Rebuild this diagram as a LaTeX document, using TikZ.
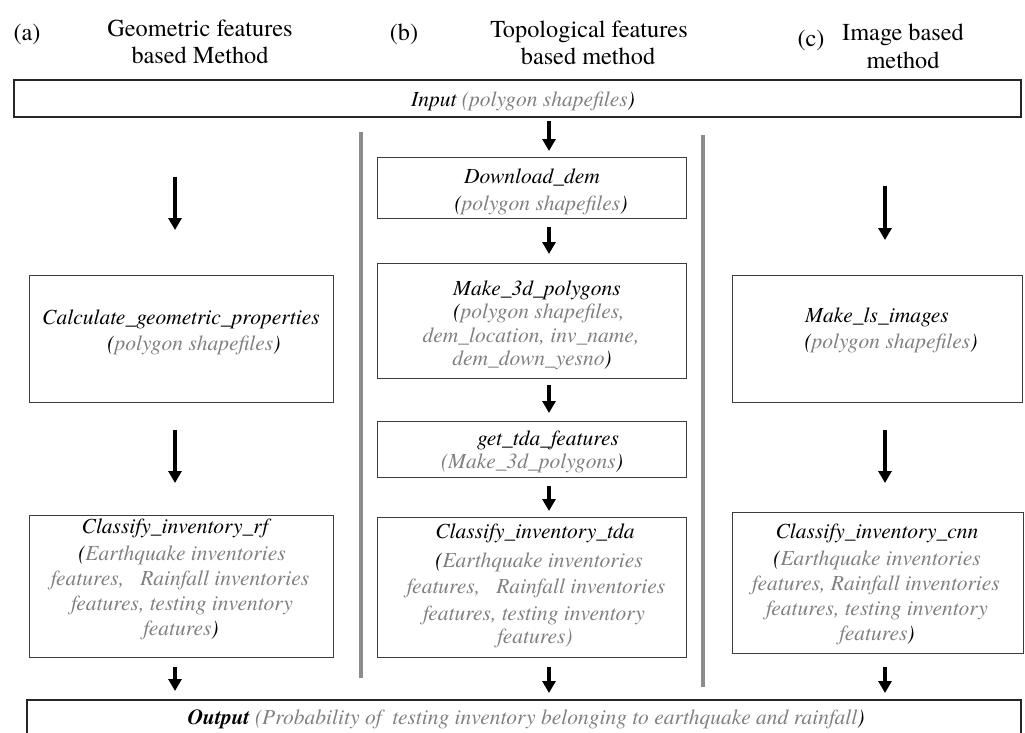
\documentclass[tikz,border=0pt]{standalone}
\usepackage{fontspec}
\setmainfont{texgyretermes}[Extension=.otf,UprightFont=*-regular,ItalicFont=*-italic,BoldFont=*-bold,BoldItalicFont=*-bolditalic]
\usetikzlibrary{arrows.meta}
\definecolor{argray}{RGB}{128,128,128}
\definecolor{boxline}{RGB}{60,60,60}
\definecolor{sepgray}{RGB}{140,140,140}
\newcommand{\gt}[1]{\textcolor{argray}{#1}}
\begin{document}
\begin{tikzpicture}[x=1pt,y=-1pt,
  box/.style={draw=boxline,line width=1pt,inner sep=0pt,outer sep=0pt},
  bigbox/.style={draw=black!85,line width=1.3pt,inner sep=0pt,outer sep=0pt},
  tx/.style={anchor=base,inner sep=0pt,font=\fontsize{21.5}{25}\selectfont\itshape},
  hd/.style={anchor=base,inner sep=0pt,font=\fontsize{24.3}{28}\selectfont},
  arr/.style={-{Triangle[width=13pt,length=12pt]},line width=3.5pt,black},
  sep/.style={draw=sepgray,line width=4pt}]
\useasboundingbox (0,0) rectangle (1025,732);
\clip (0,0) rectangle (1025,732);

% headings
\node[hd] (ha) at (27,40) {(a)};
\node[hd] (ha1) at (200,36) {Geometric features};
\node[hd] (ha2) at (200,63) {based Method};
\node[hd] (hb) at (404,40) {(b)};
\node[hd] (hb1) at (589,37) {Topological features};
\node[hd] (hb2) at (588,64) {based method};
\node[hd] (hc) at (811,46) {(c)};
\node[hd] (hc1) at (903,40) {Image based};
\node[hd] (hc2) at (903,68) {method};

% input / output boxes
\node[bigbox,minimum width=1007pt,minimum height=37pt] (inp) at (517.5,98.5) {};
\node[tx] (inpt) at (523,106) {Input \gt{(polygon shapefiles})};
\node[bigbox,minimum width=994pt,minimum height=70pt] (out) at (524,735) {};
\node[tx] (outt) at (526,724) {\textbf{Output} \gt{(Probability of\ \ testing inventory belonging to earthquake and rainfall})};

% separators
\draw[sep] (361,132) -- (361,678);
\draw[sep] (703,135) -- (703,687);

% column a
\node[box,minimum width=304pt,minimum height=127pt] (calc) at (181,338.5) {};
\node[tx] (calc1) at (181,324) {Calculate\_geometric\_properties};
\node[tx] (calc2) at (194,350) {(\gt{polygon shapefiles})};
\node[box,minimum width=304pt,minimum height=142pt] (rf) at (181,586) {};
\node[tx] (rf1) at (175,533) {Classify\_inventory\_rf};
\node[tx] (rf2) at (182,560) {(\gt{Earthquake inventories}};
\node[tx] (rf3) at (180,585) {\gt{features,\ \ \ Rainfall inventories}};
\node[tx] (rf4) at (182,610) {\gt{features, testing inventory}};
\node[tx] (rf5) at (181,635) {\gt{features})};

% column b
\node[box,minimum width=309pt,minimum height=61pt] (dem) at (531.5,187.5) {};
\node[tx] (dem1) at (532,183) {Download\_dem};
\node[tx] (dem2) at (541,210) {(\gt{polygon shapefiles})};
\node[box,minimum width=309pt,minimum height=115pt] (m3d) at (531.5,320.5) {};
\node[tx] (m3d1) at (537,295) {Make\_3d\_polygons};
\node[tx] (m3d2) at (539,318) {(\gt{polygon shapefiles,}};
\node[tx] (m3d3) at (531,342) {\gt{dem\_location, inv\_name,}};
\node[tx] (m3d4) at (532,365) {\gt{dem\_down\_yesno})};
\node[box,minimum width=309pt,minimum height=56pt] (tda) at (531.5,449) {};
\node[tx] (tda1) at (548,445) {get\_tda\_features};
\node[tx] (tda2) at (532,468) {\gt{(Make\_3d\_polygons})};
\node[box,minimum width=309pt,minimum height=140pt] (ctda) at (531.5,587) {};
\node[tx] (ctda1) at (535,538) {Classify\_inventory\_tda};
\node[tx] (ctda2) at (539,567) {(\gt{Earthquake inventories}};
\node[tx] (ctda3) at (536,593) {\gt{features,\ \ \ Rainfall inventories}};
\node[tx] (ctda4) at (534,620) {\gt{features, testing inventory}};
\node[tx] (ctda5) at (535,643) {\gt{features)}};

% column c
\node[box,minimum width=290pt,minimum height=127pt] (mls) at (877,338.5) {};
\node[tx] (mls1) at (877,322) {Make\_ls\_images};
\node[tx] (mls2) at (891,348) {(\gt{polygon shapefiles})};
\node[box,minimum width=291pt,minimum height=141pt] (cnn) at (877.5,582.5) {};
\node[tx] (cnn1) at (877,538) {Classify\_inventory\_cnn};
\node[tx] (cnn2) at (877,565) {(\gt{Earthquake inventories}};
\node[tx] (cnn3) at (876,590) {\gt{features, Rainfall inventories}};
\node[tx] (cnn4) at (877,615) {\gt{features, testing inventory}};
\node[tx] (cnn5) at (877,640) {\gt{features})};

% arrow end points
\coordinate (a1s) at (175,177); \coordinate (a1e) at (175,230);
\coordinate (a2s) at (175,430); \coordinate (a2e) at (175,483);
\coordinate (a3s) at (175,667); \coordinate (a3e) at (175,691);
\coordinate (b1s) at (549,121); \coordinate (b1e) at (549,151);
\coordinate (b2s) at (549,227); \coordinate (b2e) at (549,254);
\coordinate (b3s) at (549,385); \coordinate (b3e) at (549,413);
\coordinate (b4s) at (549,486); \coordinate (b4e) at (549,511);
\coordinate (b5s) at (549,667); \coordinate (b5e) at (549,693);
\coordinate (c1s) at (885,186); \coordinate (c1e) at (885,240);
\coordinate (c2s) at (885,430); \coordinate (c2e) at (885,483);
\coordinate (c3s) at (885,667); \coordinate (c3e) at (885,693);

\draw[arr] (a1s) -- (a1e);
\draw[arr] (a2s) -- (a2e);
\draw[arr] (a3s) -- (a3e);
\draw[arr] (b1s) -- (b1e);
\draw[arr] (b2s) -- (b2e);
\draw[arr] (b3s) -- (b3e);
\draw[arr] (b4s) -- (b4e);
\draw[arr] (b5s) -- (b5e);
\draw[arr] (c1s) -- (c1e);
\draw[arr] (c2s) -- (c2e);
\draw[arr] (c3s) -- (c3e);
\end{tikzpicture}
\end{document}
